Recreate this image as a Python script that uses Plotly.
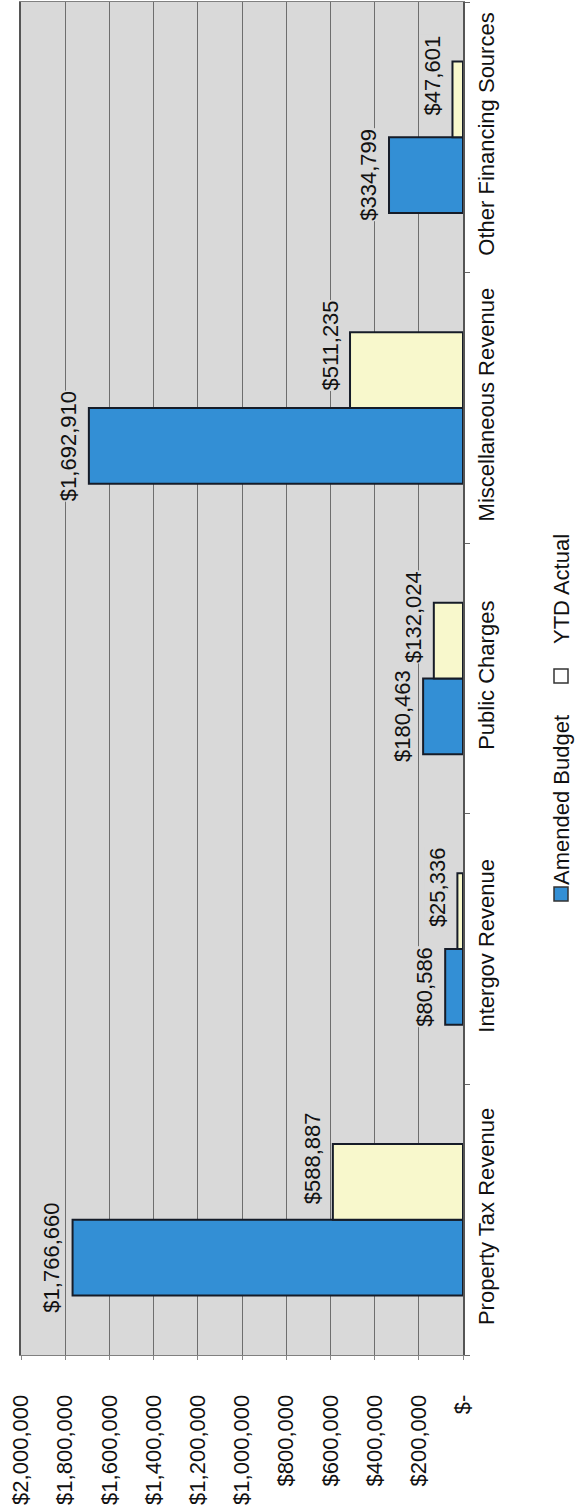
import plotly.graph_objects as go

# Revenue categories and the two series
categories = [
    "Property Tax Revenue",
    "Intergov Revenue",
    "Public Charges",
    "Miscellaneous Revenue",
    "Other Financing Sources",
]
amended_budget = [1766660, 80586, 180463, 1692910, 334799]
ytd_actual = [588887, 25336, 132024, 511235, 47601]

# Value axis ticks
tick_values = [2000000, 1800000, 1600000, 1400000, 1200000, 1000000,
               800000, 600000, 400000, 200000, 0]
tick_labels = ["$2,000,000", "$1,800,000", "$1,600,000", "$1,400,000",
               "$1,200,000", "$1,000,000", "$800,000", "$600,000",
               "$400,000", "$200,000", "$-"]

series_names = ["Amended Budget", "YTD Actual"]

# Styling
W, H = 577, 1505
M_L, M_R, M_T, M_B = 21, 114, 2, 150
FONT = "Arial, Liberation Sans, sans-serif"
FS = 22
BLUE = "#338fd5"
CREAM = "#f8f8cc"
OUTLINE = "#161c28"
PLOT_BG = "#d9d9d9"
BARGAP = 0.44
X_MAX = 2000000
TEXT = "#111111"

plot_w = W - M_L - M_R
plot_h = H - M_T - M_B


def money(v):
    return "$" + f"{v:,}"


def px_x(px):
    return (px - M_L) / plot_w


def px_y(py):
    return (H - M_B - py) / plot_h


fig = go.Figure()
fig.add_trace(go.Bar(
    y=categories, x=amended_budget, orientation="h", name=series_names[0],
    marker=dict(color=BLUE, line=dict(color=OUTLINE, width=2)),
))
fig.add_trace(go.Bar(
    y=categories, x=ytd_actual, orientation="h", name=series_names[1],
    marker=dict(color=CREAM, line=dict(color=OUTLINE, width=2)),
))

# Value labels at each bar end, rotated with the page
half = (1 - BARGAP) / 4
annotations = []
for i, (b, a) in enumerate(zip(amended_budget, ytd_actual)):
    for val, pos, lift in ((b, i - half, 0), (a, i + half, 24)):
        annotations.append(dict(
            x=val, y=pos, xref="x", yref="y", text=money(val),
            textangle=-90, showarrow=False, xanchor="right", yanchor="middle",
            xshift=-7, yshift=lift, bgcolor=PLOT_BG, borderpad=0,
            font=dict(family=FONT, size=FS, color=TEXT),
        ))

# Legend drawn by hand so it can be rotated
legend_x = 561
legend_items = [
    (series_names[0], BLUE, 713, 894),
    (series_names[1], "#ffffff", 532, 676),
]
shapes = []
for name, color, text_top, sq_center in legend_items:
    annotations.append(dict(
        x=px_x(legend_x), y=px_y(text_top), xref="paper", yref="paper",
        text=name, textangle=-90, showarrow=False,
        xanchor="center", yanchor="top",
        font=dict(family=FONT, size=FS, color=TEXT),
    ))
    s = 7
    shapes.append(dict(
        type="rect", xref="paper", yref="paper",
        x0=px_x(legend_x - s), x1=px_x(legend_x + s),
        y0=px_y(sq_center + s), y1=px_y(sq_center - s),
        fillcolor=color, line=dict(color="#333333", width=1.5),
    ))

fig.update_layout(
    width=W, height=H,
    margin=dict(l=M_L, r=M_R, t=M_T, b=M_B),
    barmode="group", bargap=BARGAP, bargroupgap=0,
    plot_bgcolor=PLOT_BG, paper_bgcolor="#ffffff",
    showlegend=False,
    annotations=annotations,
    shapes=shapes,
    font=dict(family=FONT, size=FS, color=TEXT),
)
fig.update_xaxes(
    range=[X_MAX, 0], tickvals=tick_values, ticktext=tick_labels,
    tickangle=-90, tickfont=dict(family=FONT, size=FS, color=TEXT),
    showgrid=True, gridcolor="#6e6e6e", gridwidth=1,
    ticks="outside", ticklen=4, tickcolor="#888888",
    showline=True, linecolor="#808080", linewidth=1, mirror=True,
    zeroline=False, ticklabelstandoff=26, automargin=False,
)
fig.update_yaxes(
    categoryorder="array", categoryarray=categories,
    side="right", tickangle=-90,
    tickfont=dict(family=FONT, size=FS, color=TEXT),
    ticks="outside", tickson="boundaries", ticklen=5, tickcolor="#666666",
    showline=True, linecolor="#555555", linewidth=1.5, mirror=True,
    showgrid=False, ticklabelstandoff=3, automargin=False,
)

fig.write_html("out.html")
